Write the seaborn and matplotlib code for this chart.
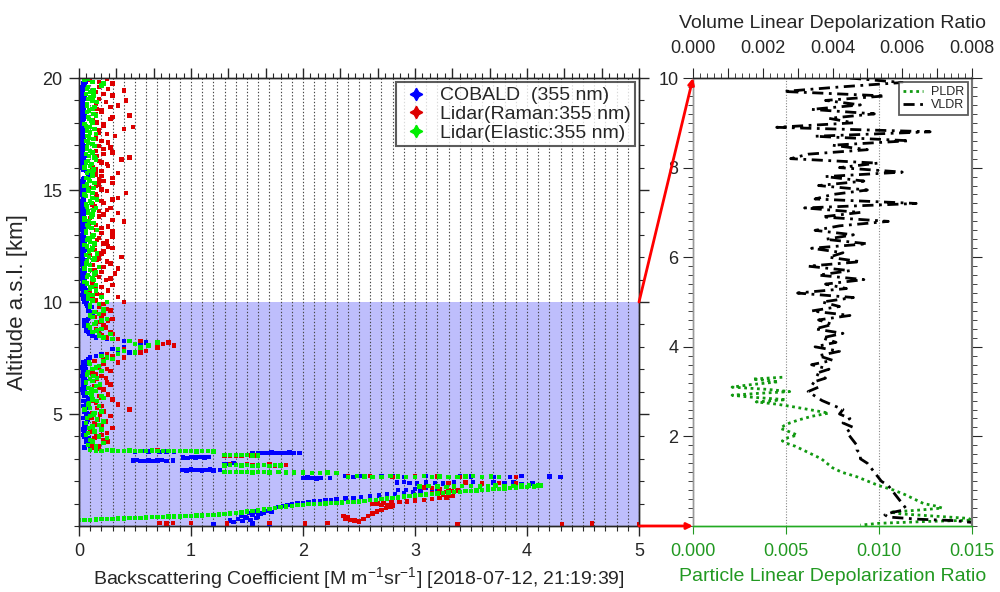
import numpy as np
import pandas as pd
import matplotlib
matplotlib.use("Agg")
import matplotlib.pyplot as plt
import seaborn as sns
from matplotlib.ticker import MultipleLocator, FuncFormatter
from matplotlib.lines import Line2D
from matplotlib.patches import ConnectionPatch

# ---------------- data ----------------
alt_column = [
    3.55, 3.70, 3.85, 4.00, 4.15, 4.30, 4.45, 4.60, 4.75, 4.90,
    5.05, 5.20, 5.35, 5.50, 5.65, 5.80, 5.95, 6.10, 6.25, 6.40,
    6.55, 6.70, 6.85, 7.00, 7.15, 7.30, 7.45, 7.60, 7.75, 7.90,
    8.05, 8.20, 8.35, 8.50, 8.65, 8.80, 8.95, 9.10, 9.25, 9.40,
    9.55, 9.70, 9.85, 10.00, 10.15, 10.30, 10.45, 10.60, 10.75, 10.90,
    11.05, 11.20, 11.35, 11.50, 11.65, 11.80, 11.95, 12.10, 12.25, 12.40,
    12.55, 12.70, 12.85, 13.00, 13.15, 13.30, 13.45, 13.60, 13.75, 13.90,
    14.05, 14.20, 14.35, 14.50, 14.65, 14.80, 14.95, 15.10, 15.25, 15.40,
    15.55, 15.70, 15.85, 16.00, 16.15, 16.30, 16.45, 16.60, 16.75, 16.90,
    17.05, 17.20, 17.35, 17.50, 17.65, 17.80, 17.95, 18.10, 18.25, 18.40,
    18.55, 18.70, 18.85, 19.00, 19.15, 19.30, 19.45, 19.60, 19.75, 19.90]

alt_column2 = [
    3.62, 3.77, 3.92, 4.07, 4.22, 4.37, 4.52, 4.67, 4.82, 4.97,
    5.12, 5.27, 5.42, 5.57, 5.72, 5.87, 6.02, 6.17, 6.32, 6.47,
    6.62, 6.77, 6.92, 7.07, 7.22, 7.37, 7.52, 7.67, 7.82, 7.97,
    8.12, 8.27, 8.42, 8.57, 8.72, 8.87, 9.02, 9.17, 9.32, 9.47,
    9.62, 9.77, 9.92, 10.07, 10.22, 10.37, 10.52, 10.67, 10.82, 10.97,
    11.12, 11.27, 11.42, 11.57, 11.72, 11.87, 12.02, 12.17, 12.32, 12.47,
    12.62, 12.77, 12.92, 13.07, 13.22, 13.37, 13.52, 13.67, 13.82, 13.97,
    14.12, 14.27, 14.42, 14.57, 14.72, 14.87, 15.02, 15.17, 15.32, 15.47,
    15.62, 15.77, 15.92, 16.07, 16.22, 16.37, 16.52, 16.67, 16.82, 16.97,
    17.12, 17.27, 17.42, 17.57, 17.72, 17.87, 18.02, 18.17, 18.32, 18.47,
    18.62, 18.77, 18.92, 19.07, 19.22, 19.37, 19.52, 19.67, 19.82, 19.97]

cobald_column = [
    0.12, 0.08, 0.06, 0.05, 0.07, 0.04, 0.06, 0.05, 0.08, 0.06,
    0.07, 0.05, 0.04, 0.06, 0.08, 0.05, 0.04, 0.03, 0.05, 0.04,
    0.05, 0.03, 0.04, 0.06, 0.05, 0.04, 0.08, 0.15, 0.45, 0.30,
    0.55, 0.60, 0.25, 0.12, 0.08, 0.06, 0.05, 0.07, 0.08, 0.10,
    0.12, 0.09, 0.07, 0.05, 0.04, 0.03, 0.04, 0.03, 0.03, 0.04,
    0.03, 0.02, 0.03, 0.04, 0.02, 0.03, 0.02, 0.03, 0.02, 0.03,
    0.03, 0.02, 0.02, 0.03, 0.04, 0.02, 0.03, 0.02, 0.03, 0.02,
    0.03, 0.02, 0.03, 0.02, 0.04, 0.03, 0.02, 0.03, 0.02, 0.03,
    0.05, 0.12, 0.06, 0.03, 0.02, 0.03, 0.02, 0.02, 0.03, 0.02,
    0.02, 0.03, 0.02, 0.02, 0.03, 0.02, 0.02, 0.03, 0.02, 0.02,
    0.02, 0.03, 0.02, 0.02, 0.03, 0.02, 0.02, 0.03, 0.04, 0.06]

cobald_column2 = [
    0.10, 0.06, 0.09, 0.04, 0.05, 0.08, 0.05, 0.07, 0.04, 0.09,
    0.05, 0.08, 0.06, 0.04, 0.10, 0.06, 0.05, 0.07, 0.04, 0.06,
    0.04, 0.06, 0.05, 0.03, 0.07, 0.06, 0.10, 0.20, 0.35, 0.40,
    0.50, 0.40, 0.15, 0.09, 0.06, 0.08, 0.07, 0.05, 0.10, 0.12,
    0.08, 0.11, 0.06, 0.07, 0.05, 0.04, 0.06, 0.05, 0.04, 0.05,
    0.04, 0.05, 0.03, 0.05, 0.04, 0.06, 0.03, 0.04, 0.05, 0.03,
    0.05, 0.03, 0.04, 0.05, 0.03, 0.04, 0.05, 0.03, 0.04, 0.05,
    0.04, 0.05, 0.03, 0.04, 0.05, 0.03, 0.04, 0.05, 0.03, 0.04,
    0.08, 0.10, 0.04, 0.05, 0.03, 0.04, 0.05, 0.03, 0.04, 0.05,
    0.03, 0.04, 0.05, 0.03, 0.04, 0.05, 0.03, 0.04, 0.05, 0.03,
    0.04, 0.05, 0.03, 0.04, 0.05, 0.03, 0.04, 0.05, 0.06, 0.08]

elastic_column = [
    0.15, 0.22, 0.10, 0.18, 0.08, 0.20, 0.12, 0.06, 0.16, 0.10,
    0.14, 0.05, 0.18, 0.09, 0.12, 0.20, 0.07, 0.11, 0.15, 0.06,
    0.10, 0.13, 0.08, 0.12, 0.18, 0.09, 0.30, 0.20, 0.50, 0.35,
    0.62, 0.70, 0.30, 0.18, 0.12, 0.20, 0.08, 0.15, 0.25, 0.10,
    0.14, 0.22, 0.10, 0.25, 0.08, 0.12, 0.06, 0.10, 0.15, 0.05,
    0.12, 0.08, 0.15, 0.05, 0.10, 0.07, 0.14, 0.06, 0.09, 0.12,
    0.05, 0.10, 0.08, 0.13, 0.06, 0.11, 0.07, 0.09, 0.05, 0.12,
    0.08, 0.15, 0.06, 0.10, 0.12, 0.05, 0.09, 0.13, 0.07, 0.10,
    0.06, 0.12, 0.09, 0.05, 0.11, 0.08, 0.14, 0.06, 0.10, 0.07,
    0.12, 0.06, 0.09, 0.15, 0.07, 0.10, 0.05, 0.11, 0.08, 0.13,
    0.09, 0.14, 0.07, 0.12, 0.10, 0.06, 0.13, 0.08, 0.22, 0.05]

elastic_column2 = [
    0.08, 0.12, 0.25, 0.06, 0.14, 0.09, 0.18, 0.22, 0.07, 0.13,
    0.20, 0.10, 0.08, 0.16, 0.22, 0.11, 0.15, 0.08, 0.19, 0.12,
    0.16, 0.07, 0.20, 0.15, 0.10, 0.22, 0.25, 0.35, 0.40, 0.55,
    0.50, 0.45, 0.22, 0.28, 0.16, 0.10, 0.14, 0.20, 0.12, 0.18,
    0.22, 0.10, 0.18, 0.12, 0.20, 0.08, 0.15, 0.11, 0.07, 0.13,
    0.07, 0.14, 0.10, 0.18, 0.06, 0.13, 0.09, 0.16, 0.11, 0.07,
    0.14, 0.07, 0.12, 0.06, 0.16, 0.08, 0.13, 0.05, 0.11, 0.08,
    0.13, 0.07, 0.11, 0.16, 0.06, 0.12, 0.08, 0.05, 0.14, 0.09,
    0.12, 0.07, 0.13, 0.10, 0.06, 0.15, 0.09, 0.12, 0.07, 0.14,
    0.08, 0.13, 0.07, 0.10, 0.14, 0.06, 0.12, 0.09, 0.15, 0.07,
    0.12, 0.07, 0.16, 0.08, 0.13, 0.10, 0.07, 0.20, 0.12, 0.08]

raman_column = [
    0.18, 0.12, 0.22, 0.15, 0.25, 0.10, 0.20, 0.14, 0.17, 0.28,
    0.12, 0.45, 0.20, 0.15, 0.30, 0.18, 0.10, 0.22, 0.14, 0.25,
    0.16, 0.20, 0.12, 0.25, 0.18, 0.35, 0.22, 0.30, 0.55, 0.40,
    0.85, 0.80, 0.35, 0.20, 0.28, 0.15, 0.22, 0.18, 0.30, 0.20,
    0.15, 0.25, 0.18, 0.40, 0.12, 0.20, 0.10, 0.15, 0.30, 0.12,
    0.28, 0.15, 0.20, 0.35, 0.12, 0.25, 0.18, 0.10, 0.22, 0.30,
    0.14, 0.25, 0.18, 0.12, 0.30, 0.20, 0.15, 0.40, 0.10, 0.22,
    0.18, 0.28, 0.12, 0.20, 0.35, 0.15, 0.25, 0.10, 0.18, 0.22,
    0.30, 0.15, 0.20, 0.12, 0.25, 0.18, 0.45, 0.22, 0.15, 0.28,
    0.12, 0.20, 0.15, 0.25, 0.18, 0.48, 0.22, 0.12, 0.30, 0.15,
    0.20, 0.28, 0.15, 0.42, 0.12, 0.22, 0.40, 0.18, 0.30, 0.10]

raman_column2 = [
    0.10, 0.26, 0.14, 0.20, 0.12, 0.30, 0.16, 0.24, 0.11, 0.19,
    0.22, 0.16, 0.35, 0.12, 0.20, 0.26, 0.15, 0.18, 0.28, 0.13,
    0.24, 0.15, 0.28, 0.18, 0.22, 0.14, 0.40, 0.25, 0.60, 0.70,
    0.75, 0.55, 0.25, 0.30, 0.18, 0.24, 0.15, 0.26, 0.14, 0.22,
    0.28, 0.18, 0.22, 0.15, 0.35, 0.16, 0.26, 0.20, 0.12, 0.24,
    0.18, 0.32, 0.14, 0.22, 0.28, 0.16, 0.38, 0.20, 0.14, 0.26,
    0.22, 0.16, 0.30, 0.20, 0.15, 0.26, 0.12, 0.30, 0.18, 0.35,
    0.25, 0.14, 0.22, 0.30, 0.16, 0.42, 0.20, 0.15, 0.30, 0.18,
    0.20, 0.35, 0.15, 0.26, 0.20, 0.38, 0.16, 0.30, 0.22, 0.18,
    0.26, 0.15, 0.32, 0.18, 0.40, 0.22, 0.16, 0.28, 0.45, 0.20,
    0.16, 0.35, 0.24, 0.18, 0.30, 0.15, 0.26, 0.20, 0.18, 0.25]

# lower troposphere (value, altitude)
cobald_low = [
    (0.05, 3.50), (0.10, 3.45), (0.50, 3.32), (0.56, 3.34), (0.62, 3.33), (0.72, 3.31),
    (0.78, 3.33), (0.85, 3.32), (1.55, 3.26), (1.60, 3.27), (1.64, 3.25), (1.68, 3.26),
    (1.72, 3.28), (1.76, 3.27), (1.80, 3.25), (1.84, 3.26), (1.88, 3.28), (1.92, 3.27),
    (1.97, 3.26),
    (0.48, 2.92), (0.52, 2.94), (0.55, 2.91), (0.59, 2.90), (0.62, 2.93), (0.66, 2.91),
    (0.70, 2.92), (0.74, 2.94), (0.78, 2.90), (0.84, 2.92),
    (0.93, 3.06), (0.97, 3.04), (1.00, 3.08), (1.04, 3.06), (1.08, 3.07), (1.12, 3.05),
    (1.16, 3.08), (1.30, 2.78), (1.34, 2.76), (1.38, 2.80),
    (0.92, 2.50), (0.96, 2.48), (1.00, 2.52), (1.04, 2.51), (1.07, 2.49), (1.10, 2.47),
    (1.14, 2.50), (1.17, 2.52), (1.20, 2.48), (1.26, 2.50),
    (2.00, 2.14), (2.04, 2.16), (2.08, 2.13), (2.12, 2.12), (2.16, 2.15), (2.24, 2.14),
    (2.38, 2.22), (2.45, 2.20), (2.52, 2.23), (2.62, 2.20), (2.70, 2.21), (2.80, 2.23),
    (2.90, 2.20), (3.00, 2.18), (3.10, 2.22), (3.20, 2.20), (3.30, 2.19), (3.40, 2.23),
    (3.50, 2.21), (3.60, 2.19), (3.70, 2.20), (3.85, 2.18), (3.95, 2.22), (4.20, 2.21),
    (4.30, 2.20),
    (2.84, 1.95), (2.90, 1.97), (2.95, 1.92), (3.02, 1.90), (3.10, 1.94), (3.18, 1.92),
    (3.25, 1.90), (3.35, 1.95), (3.45, 1.93), (3.52, 1.96), (3.60, 1.90), (3.70, 1.94),
    (3.80, 1.92), (3.88, 1.95), (3.95, 1.88), (4.05, 1.90),
    (1.35, 0.25), (1.38, 0.18), (1.42, 0.30), (1.46, 0.22), (1.50, 0.35), (1.53, 0.28),
    (1.45, 0.45), (1.48, 0.38), (1.55, 0.50), (1.58, 0.36), (1.60, 0.42), (1.62, 0.55),
    (1.65, 0.60), (1.52, 0.58), (1.58, 0.65), (1.68, 0.66), (1.70, 0.72), (1.72, 0.62),
    (1.75, 0.80), (1.78, 0.85), (1.82, 0.90), (1.86, 0.95), (1.90, 0.98), (1.95, 1.01),
    (2.00, 1.04), (2.05, 1.07), (2.10, 1.10), (2.15, 1.12), (2.20, 1.15), (2.25, 1.17),
    (2.30, 1.20), (2.38, 1.23), (2.45, 1.26), (2.52, 1.29), (2.60, 1.32), (2.68, 1.36),
    (2.75, 1.40), (2.82, 1.43), (2.90, 1.46), (2.98, 1.52), (2.85, 1.60), (2.92, 1.62),
    (3.00, 1.65), (3.05, 1.58), (3.10, 1.70), (3.15, 1.66), (3.20, 1.62),
    (1.20, 0.10), (1.55, 0.12), (1.70, 0.08)]

raman_low = [
    (0.12, 3.50), (0.18, 3.45), (0.30, 3.37), (0.40, 3.36), (0.50, 3.36), (0.60, 3.35),
    (0.70, 3.37), (0.80, 3.36), (0.90, 3.35), (1.00, 3.36), (1.10, 3.36),
    (1.30, 3.12), (1.35, 3.14), (1.40, 3.15), (1.45, 3.13), (1.50, 3.17), (1.54, 3.15),
    (1.58, 3.14), (1.35, 2.74), (1.40, 2.71), (1.45, 2.72), (1.50, 2.74), (1.55, 2.73),
    (1.60, 2.71), (1.65, 2.72), (1.70, 2.74), (1.75, 2.70), (1.80, 2.71), (1.85, 2.72),
    (2.40, 2.22), (2.60, 2.23), (2.80, 2.20), (3.00, 2.22), (3.20, 2.21), (3.40, 2.20),
    (3.60, 2.19), (3.90, 2.20),
    (3.30, 1.92), (3.45, 1.94), (3.60, 1.90), (3.75, 1.92), (3.90, 1.93),
    (2.40, 0.38), (2.36, 0.45), (2.38, 0.33), (2.42, 0.28), (2.46, 0.24), (2.50, 0.20),
    (2.54, 0.32), (2.58, 0.45), (2.62, 0.55), (2.66, 0.65), (2.70, 0.72), (2.74, 0.80),
    (2.78, 0.86), (2.80, 0.92), (2.75, 0.94), (2.70, 0.95), (2.66, 0.97), (2.62, 0.98),
    (2.67, 1.00), (2.72, 1.02), (2.79, 1.05), (2.86, 1.07), (2.93, 1.10), (3.00, 1.13),
    (3.08, 1.16), (3.15, 1.20), (3.22, 1.24), (3.28, 1.28), (3.34, 1.34), (3.30, 1.37),
    (3.25, 1.40), (3.20, 1.43), (3.15, 1.46), (3.22, 1.49), (3.28, 1.52), (3.33, 1.55),
    (3.38, 1.58), (3.30, 1.62), (3.22, 1.66), (3.15, 1.69), (3.08, 1.72),
    (0.72, 0.13), (0.78, 0.12), (0.84, 0.14), (1.00, 0.13), (1.32, 0.12), (1.70, 0.13),
    (2.02, 0.12), (2.22, 0.14), (3.38, 0.10), (4.31, 0.10), (4.58, 0.12), (5.00, 0.10)]

elastic_low = [
    (0.10, 3.38), (0.15, 3.37), (0.20, 3.36), (0.25, 3.38), (0.30, 3.37), (0.35, 3.36),
    (0.40, 3.35), (0.45, 3.37), (0.50, 3.36), (0.55, 3.34), (0.60, 3.35), (0.65, 3.37),
    (0.70, 3.36), (0.75, 3.34), (0.80, 3.35), (0.85, 3.36), (0.90, 3.34), (0.95, 3.36),
    (1.00, 3.35), (1.05, 3.33), (1.10, 3.34), (1.15, 3.35), (1.20, 3.33),
    (1.30, 3.18), (1.35, 3.16), (1.40, 3.17), (1.45, 3.18), (1.50, 3.16), (1.55, 3.14),
    (1.60, 3.15),
    (1.30, 2.70), (1.35, 2.72), (1.40, 2.72), (1.45, 2.70), (1.50, 2.71), (1.55, 2.69),
    (1.60, 2.70), (1.65, 2.71), (1.70, 2.69), (1.75, 2.71), (1.80, 2.70),
    (1.30, 2.42), (1.35, 2.41), (1.40, 2.40), (1.45, 2.42), (1.50, 2.41), (1.55, 2.39),
    (1.60, 2.40), (1.65, 2.41), (1.70, 2.39), (1.78, 2.40), (1.85, 2.38), (1.92, 2.39),
    (2.00, 2.38), (2.08, 2.36), (2.15, 2.37), (2.22, 2.38), (2.30, 2.37),
    (2.40, 2.20), (2.48, 2.22), (2.55, 2.21), (2.62, 2.19), (2.70, 2.20), (2.78, 2.22),
    (2.85, 2.21), (2.92, 2.19), (3.00, 2.20), (3.08, 2.22), (3.15, 2.19), (3.22, 2.21),
    (3.30, 2.20), (3.38, 2.18), (3.45, 2.21), (3.52, 2.22), (3.60, 2.20), (3.68, 2.21),
    (3.75, 2.19),
    (3.04, 1.76), (3.12, 1.78), (3.20, 1.77), (3.28, 1.75), (3.35, 1.76), (3.42, 1.79),
    (3.50, 1.78), (3.58, 1.76), (3.65, 1.77), (3.72, 1.80), (3.80, 1.79), (3.88, 1.78),
    (3.95, 1.80), (4.02, 1.81), (4.10, 1.80),
    (0.00, 0.27), (0.05, 0.27), (0.10, 0.28), (0.15, 0.29), (0.20, 0.30), (0.25, 0.31),
    (0.30, 0.32), (0.35, 0.33), (0.40, 0.34), (0.45, 0.35), (0.50, 0.36), (0.55, 0.37),
    (0.60, 0.38), (0.65, 0.39), (0.70, 0.40), (0.75, 0.41), (0.80, 0.42), (0.85, 0.42),
    (0.90, 0.43), (0.95, 0.44), (1.00, 0.45), (1.05, 0.46), (1.10, 0.47), (1.15, 0.48),
    (1.20, 0.50), (1.25, 0.52), (1.30, 0.54), (1.35, 0.56), (1.40, 0.58), (1.45, 0.61),
    (1.50, 0.64), (1.55, 0.67), (1.60, 0.70), (1.65, 0.73), (1.70, 0.77), (1.75, 0.80),
    (1.80, 0.84), (1.85, 0.87), (1.90, 0.90), (1.95, 0.93), (2.00, 0.95), (2.05, 0.97),
    (2.10, 0.98), (2.15, 0.99), (2.20, 1.00), (2.25, 1.02), (2.30, 1.03), (2.35, 1.05),
    (2.40, 1.06), (2.45, 1.08), (2.50, 1.10), (2.55, 1.12), (2.60, 1.15), (2.65, 1.17),
    (2.70, 1.20), (2.75, 1.23), (2.80, 1.26), (2.85, 1.28), (2.90, 1.31), (2.95, 1.33),
    (3.00, 1.36), (3.05, 1.38), (3.10, 1.41), (3.15, 1.43), (3.20, 1.45), (3.25, 1.47),
    (3.30, 1.49), (3.35, 1.51), (3.40, 1.53), (3.45, 1.55), (3.50, 1.57), (3.55, 1.58),
    (3.60, 1.60), (3.65, 1.62), (3.70, 1.64), (3.75, 1.66), (3.80, 1.68), (3.85, 1.70),
    (3.90, 1.72), (3.95, 1.73), (4.00, 1.75), (4.06, 1.77), (4.12, 1.80)]

series_names = ["COBALD  (355 nm)", "Lidar(Raman:355 nm)", "Lidar(Elastic:355 nm)"]
series_colors = ["#0000ff", "#dd0000", "#00ee00"]

vldr_alt = [10.0, 9.9, 9.8, 9.7, 9.6, 9.5, 9.4, 9.3, 9.2, 9.1,
            9.0, 8.9, 8.8, 8.7, 8.6, 8.5, 8.4, 8.3, 8.2, 8.1,
            8.0, 7.9, 7.8, 7.7, 7.6, 7.5, 7.4, 7.3, 7.2, 7.1,
            7.0, 6.9, 6.8, 6.7, 6.6, 6.5, 6.4, 6.3, 6.2, 6.1,
            6.0, 5.9, 5.8, 5.7, 5.6, 5.5, 5.4, 5.3, 5.2, 5.1,
            5.0, 4.9, 4.8, 4.7, 4.6, 4.5, 4.4, 4.3, 4.2, 4.1,
            4.0, 3.9, 3.8, 3.7, 3.6, 3.5, 3.4, 3.3, 3.2, 3.1,
            3.0, 2.9, 2.8, 2.7, 2.6, 2.5, 2.4, 2.3, 2.2, 2.1,
            2.0, 1.9, 1.8, 1.7, 1.6, 1.5, 1.4, 1.3, 1.2, 1.1,
            1.0, 0.9, 0.8, 0.7, 0.6, 0.5, 0.4, 0.35, 0.3, 0.25,
            0.2, 0.15, 0.12, 0.08]
vldr_val = [0.0045, 0.0060, 0.0042, 0.0026, 0.0055, 0.0038, 0.0048, 0.0034, 0.0052, 0.0039,
            0.0046, 0.0024, 0.0068, 0.0035, 0.0062, 0.0040, 0.0050, 0.0033, 0.0028, 0.0053,
            0.0042, 0.0060, 0.0038, 0.0049, 0.0036, 0.0050, 0.0040, 0.0035, 0.0064, 0.0032,
            0.0048, 0.0037, 0.0056, 0.0042, 0.0035, 0.0046, 0.0038, 0.0050, 0.0034, 0.0043,
            0.0039, 0.0048, 0.0033, 0.0045, 0.0036, 0.0049, 0.0038, 0.0044, 0.0030, 0.0046,
            0.0037, 0.0042, 0.0034, 0.0045, 0.0036, 0.0040, 0.0035, 0.0043, 0.0037, 0.0041,
            0.0035, 0.0042, 0.0036, 0.0040, 0.0034, 0.0039, 0.0035, 0.0038, 0.0034, 0.0036,
            0.0033, 0.0035, 0.0037, 0.0040, 0.0043, 0.0042, 0.0045, 0.0043, 0.0046, 0.0044,
            0.0045, 0.0046, 0.0047, 0.0047, 0.0048, 0.0048, 0.0050, 0.0051, 0.0052, 0.0053,
            0.0054, 0.0056, 0.0057, 0.0058, 0.0059, 0.0060, 0.0061, 0.0060, 0.0057, 0.0055,
            0.0056, 0.0065, 0.0075, 0.0080]

pldr_alt = [3.32, 3.28, 3.22, 3.15, 3.10, 3.05, 3.00, 2.96, 2.92, 2.88,
            2.82, 2.77, 2.72, 2.66, 2.58, 2.52, 2.45, 2.37, 2.30, 2.24,
            2.18, 2.10, 2.03, 1.97, 1.90, 1.85, 1.78, 1.70, 1.60, 1.50,
            1.40, 1.30, 1.20, 1.10, 1.00, 0.90, 0.80, 0.70, 0.60, 0.50,
            0.45, 0.40, 0.35, 0.31, 0.27, 0.22, 0.17, 0.13, 0.10, 0.06, 0.02]
pldr_val = [0.0048, 0.0032, 0.0046, 0.0030, 0.0021, 0.0040, 0.0052, 0.0035, 0.0021, 0.0030,
            0.0050, 0.0034, 0.0045, 0.0054, 0.0065, 0.0073, 0.0064, 0.0057, 0.0052, 0.0049,
            0.0047, 0.0052, 0.0056, 0.0051, 0.0048, 0.0050, 0.0055, 0.0059, 0.0064, 0.0069,
            0.0072, 0.0075, 0.0080, 0.0088, 0.0094, 0.0100, 0.0108, 0.0114, 0.0119, 0.0124,
            0.0130, 0.0134, 0.0120, 0.0106, 0.0112, 0.0130, 0.0148, 0.0150, 0.0125, 0.0100, 0.0090]

# ---------------- style ----------------
sns.set_style("ticks")
plt.rcParams["font.family"] = ["Liberation Sans", "DejaVu Sans"]
plt.rcParams["mathtext.fontset"] = "custom"
plt.rcParams["mathtext.rm"] = "Liberation Sans"
plt.rcParams["axes.linewidth"] = 1.0

FS = 13      # tick labels
LFS = 14     # axis labels
green_txt = "#229922"

fig = plt.figure(figsize=(10, 5.92), dpi=100)
ax_l = fig.add_axes([0.079, 0.1115, 0.560, 0.7567])
ax_r = fig.add_axes([0.693, 0.1115, 0.279, 0.7567])

# ---------------- left panel ----------------
rows = []
for name, c1, c2, low in zip(series_names,
                             [cobald_column, raman_column, elastic_column],
                             [cobald_column2, raman_column2, elastic_column2],
                             [cobald_low, raman_low, elastic_low]):
    for a, v in zip(alt_column, c1):
        rows.append((name, v, a))
    for a, v in zip(alt_column2, c2):
        rows.append((name, v, a))
    for v, a in low:
        rows.append((name, v, a))
df = pd.DataFrame(rows, columns=["series", "value", "altitude"])

ax_l.axhspan(0, 10, color="#bebefc", zorder=0.2, lw=0)
sns.scatterplot(data=df, x="value", y="altitude", hue="series",
                hue_order=series_names, palette=series_colors,
                marker="s", s=10, linewidth=0, legend=False, ax=ax_l, zorder=3)

ax_l.set_xlim(0, 5)
ax_l.set_ylim(0, 20)
ax_l.set_xticks([0, 1, 2, 3, 4, 5])
ax_l.xaxis.set_minor_locator(MultipleLocator(0.1))
ax_l.set_yticks([5, 10, 15, 20])
ax_l.yaxis.set_minor_locator(MultipleLocator(1))
ax_l.set_axisbelow(True)
ax_l.grid(axis="x", which="both", linestyle=(0, (1.2, 1.8)), color="#444444", lw=0.8)
ax_l.tick_params(axis="both", which="major", direction="out", length=7, width=1,
                 pad=5, labelsize=FS, right=True, top=False)
ax_l.tick_params(axis="both", which="minor", direction="out", length=3.5, width=0.8,
                 right=True, top=False)
ax_l.set_xlabel("Backscattering Coefficient [M m$^{\\mathregular{-1}}$sr$^{\\mathregular{-1}}$] [2018-07-12, 21:19:39]",
                fontsize=LFS, labelpad=4)
ax_l.set_ylabel("Altitude a.s.l. [km]", fontsize=16, labelpad=10)

ax_lt = ax_l.twiny()
ax_lt.set_xlim(0, 15)
ax_lt.xaxis.set_major_locator(MultipleLocator(1))
ax_lt.xaxis.set_minor_locator(MultipleLocator(0.2))
ax_lt.tick_params(axis="x", which="major", direction="out", length=7, width=1, labeltop=False)
ax_lt.tick_params(axis="x", which="minor", direction="out", length=3.5, width=0.8)
ax_lt.set_xticklabels([])

handles = [Line2D([], [], marker=(4, 1, 0), linestyle="none", color=c, markersize=9)
           for c in series_colors]
leg = ax_lt.legend(handles, series_names, loc="upper right", fontsize=14,
                   frameon=True, fancybox=False, borderaxespad=0.2,
                   handletextpad=0.4, labelspacing=0.05, borderpad=0.25,
                   handlelength=1.6)
leg.get_frame().set_edgecolor("#333333")
leg.get_frame().set_linewidth(1.5)

# ---------------- right panel ----------------
sns.lineplot(x=pldr_val, y=pldr_alt, sort=False, estimator=None, ax=ax_r,
             color="#119911", linestyle=(0, (1, 1.3)), lw=2.0)
ax_r.set_xlim(0, 0.015)
ax_r.set_ylim(0, 10)
ax_r.set_xticks([0, 0.005, 0.010, 0.015])
ax_r.xaxis.set_major_formatter(FuncFormatter(lambda v, p: f"{v:.3f}"))
ax_r.set_yticks([2, 4, 6, 8, 10])
ax_r.yaxis.set_minor_locator(MultipleLocator(0.2))
ax_r.grid(axis="x", linestyle=(0, (1, 1.5)), color="#888888", lw=0.8)
ax_r.tick_params(axis="x", which="major", direction="out", length=6, pad=6,
                 colors=green_txt, labelsize=FS, labelcolor=green_txt)
ax_r.tick_params(axis="y", which="major", direction="out", length=7, labelsize=FS, right=True)
ax_r.tick_params(axis="y", which="minor", direction="out", length=3.5, right=True)
ax_r.set_xlabel("Particle Linear Depolarization Ratio", fontsize=LFS, color=green_txt, labelpad=6)
ax_r.spines["bottom"].set_color("#22aa22")
ax_r.spines["left"].set_color("#999999")
ax_r.spines["right"].set_color("#777777")
ax_r.spines["right"].set_linewidth(1.5)

ax_rt = ax_r.twiny()
sns.lineplot(x=vldr_val, y=vldr_alt, sort=False, estimator=None, ax=ax_rt,
             color="black", linestyle=(0, (4, 2, 1, 2)), lw=2.0)
ax_rt.set_xlim(0, 0.008)
ax_rt.xaxis.set_major_locator(MultipleLocator(0.001))
ax_rt.xaxis.set_minor_locator(MultipleLocator(0.0002))
ax_rt.xaxis.set_major_formatter(FuncFormatter(
    lambda v, p: (f"{v:.3f}" if round(v * 1000) % 2 == 0 else "")))
ax_rt.tick_params(axis="x", which="major", direction="out", length=7, pad=8, labelsize=FS)
ax_rt.tick_params(axis="x", which="minor", direction="out", length=3.5)
ax_rt.set_xlabel("Volume Linear Depolarization Ratio", fontsize=LFS, labelpad=9)
ax_rt.spines["bottom"].set_color("#22aa22")
ax_rt.spines["right"].set_color("#777777")
ax_rt.spines["right"].set_linewidth(1.5)
ax_rt.spines["left"].set_color("#999999")

leg_handles = [Line2D([], [], color="#119911", linestyle=(0, (1, 1.3)), lw=2.0),
               Line2D([], [], color="black", linestyle=(0, (4, 2, 1, 2)), lw=2.0)]
leg2 = ax_rt.legend(leg_handles, ["PLDR", "VLDR"], loc="upper right", fontsize=9,
                    frameon=True, fancybox=False, borderaxespad=0.35,
                    handlelength=1.6, handletextpad=0.6, labelspacing=0.1, borderpad=0.3)
leg2.get_frame().set_edgecolor("#333333")
leg2.get_frame().set_linewidth(1.3)

# ---------------- connectors ----------------
for ya, yb in [(10, 10), (0, 0)]:
    con = ConnectionPatch(xyA=(5, ya), coordsA=ax_l.transData,
                          xyB=(0, yb), coordsB=ax_r.transData,
                          arrowstyle="-|>", mutation_scale=9, color="red", lw=2.0,
                          zorder=10)
    fig.add_artist(con)

fig.savefig("out.png", dpi=100)
